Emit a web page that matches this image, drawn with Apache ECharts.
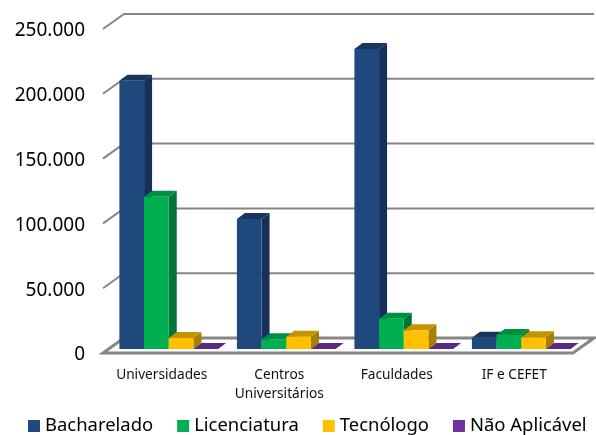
<!DOCTYPE html>
<html>
<head>
<meta charset="utf-8">
<style>
  html, body { margin: 0; padding: 0; background: #fff; }
  #main { width: 596px; height: 435px; }
</style>
<script src="https://cdn.jsdelivr.net/npm/echarts@6/dist/echarts.min.js"></script>
</head>
<body>
<div id="main"></div>
<script>
var categories = ['Universidades', 'Centros\nUniversitários', 'Faculdades', 'IF e CEFET'];
var bacharelado = [207000, 100300, 231500, 8700];
var licenciatura = [117500, 7500, 23400, 10800];
var tecnologo = [8500, 9500, 14400, 9000];
var naoAplicavel = [0, 0, 0, 0];
var yTicks = [0, 50000, 100000, 150000, 200000, 250000];

var FONT = '"Noto Sans", sans-serif';
var GRID_COLOR = '#868686';

// wall depth (the floor goes back this far)
var WALL_DX = 21, WALL_DY = -15;
// where the bars stand on the floor, relative to the front edge
var BAR_DX = 7, BAR_DY = -4;
// depth of a bar
var DEPTH_DX = 8, DEPTH_DY = -6;

function wallItem(params, api) {
  var cs = params.coordSys;
  var y = api.coord([0, api.value(1)])[1];
  var x0 = cs.x, x1 = cs.x + cs.width;
  var line = { stroke: GRID_COLOR, lineWidth: 2, fill: null };
  if (api.value(1) === 0) { // floor
    return {
      type: 'polygon',
      shape: { points: [[x0, y], [x0 + WALL_DX, y + WALL_DY], [x1 + WALL_DX, y + WALL_DY], [x1, y]] },
      style: { stroke: GRID_COLOR, lineWidth: 3, fill: '#fff' }
    };
  }
  return {
    type: 'polyline',
    shape: { points: [[x0, y], [x0 + WALL_DX, y + WALL_DY], [x1 + WALL_DX, y + WALL_DY]] },
    style: line
  };
}

function prism(pos, front, top, side) {
  return function (params, api) {
    var c = api.coord([api.value(0), api.value(1)]);
    var base = api.coord([api.value(0), 0]);
    var bw = api.size([1, 0])[0] * 0.21;
    var x = c[0] + BAR_DX + (pos - 2) * bw;
    var yt = c[1] + BAR_DY, yb = base[1] + BAR_DY;
    var children = [{
      type: 'polygon',
      shape: { points: [[x + bw, yt], [x + bw + DEPTH_DX, yt + DEPTH_DY], [x + bw + DEPTH_DX, yb + DEPTH_DY], [x + bw, yb]] },
      style: { fill: side }
    }, {
      type: 'polygon',
      shape: { points: [[x, yt], [x + DEPTH_DX, yt + DEPTH_DY], [x + bw + DEPTH_DX, yt + DEPTH_DY], [x + bw, yt]] },
      style: { fill: top }
    }];
    if (yb - yt > 0.5) {
      children.push({ type: 'rect', shape: { x: x, y: yt, width: bw, height: yb - yt }, style: { fill: front } });
    }
    return { type: 'group', children: children };
  };
}

function barSeries(name, values, pos, front, top, side) {
  return {
    name: name,
    type: 'custom',
    clip: false,
    silent: true,
    itemStyle: { color: front },
    encode: { x: 0, y: 1 },
    data: values.map(function (v, i) { return [i, v]; }),
    renderItem: prism(pos, front, top, side)
  };
}

var chart = echarts.init(document.getElementById('main'), null, { renderer: 'canvas' });
chart.setOption({
  animation: false,
  backgroundColor: '#fff',
  grid: { left: 103, top: 29, width: 470, height: 324 },
  legend: {
    left: 23,
    top: 412,
    icon: 'rect',
    itemWidth: 12,
    itemHeight: 12,
    itemGap: 24,
    data: ['Bacharelado', 'Licenciatura', 'Tecnólogo', 'Não Aplicável'],
    textStyle: { color: '#000', fontFamily: FONT, fontSize: 18.45, padding: [0, 0, 0, 0] }
  },
  xAxis: {
    type: 'category',
    data: categories,
    axisLine: { show: false },
    axisTick: { show: false },
    axisLabel: { color: '#111', fontFamily: FONT, fontSize: 13.7, margin: 13, lineHeight: 19, interval: 0 }
  },
  yAxis: {
    type: 'value',
    min: 0,
    max: 250000,
    interval: 50000,
    axisLine: { show: false },
    axisTick: { show: false },
    splitLine: { show: false },
    axisLabel: {
      margin: 18,
      formatter: function (v) { return '{t|' + (v === 0 ? '0' : (v / 1000) + '.000') + '}'; },
      rich: { t: { color: '#000', fontFamily: FONT, fontSize: 19, padding: [4, 0, 0, 0] } }
    }
  },
  series: [{
    name: 'walls',
    type: 'custom',
    clip: false,
    silent: true,
    encode: { x: 0, y: 1 },
    data: yTicks.map(function (v) { return [0, v]; }),
    renderItem: wallItem
  },
  barSeries('Bacharelado', bacharelado, 0, '#1F497D', '#17375E', '#15305A'),
  barSeries('Licenciatura', licenciatura, 1, '#00B050', '#008F40', '#007438'),
  barSeries('Tecnólogo', tecnologo, 2, '#FFC000', '#C49400', '#A67F00'),
  barSeries('Não Aplicável', naoAplicavel, 3, '#7030A0', '#5A2781', '#4A2068')]
});
</script>
</body>
</html>
